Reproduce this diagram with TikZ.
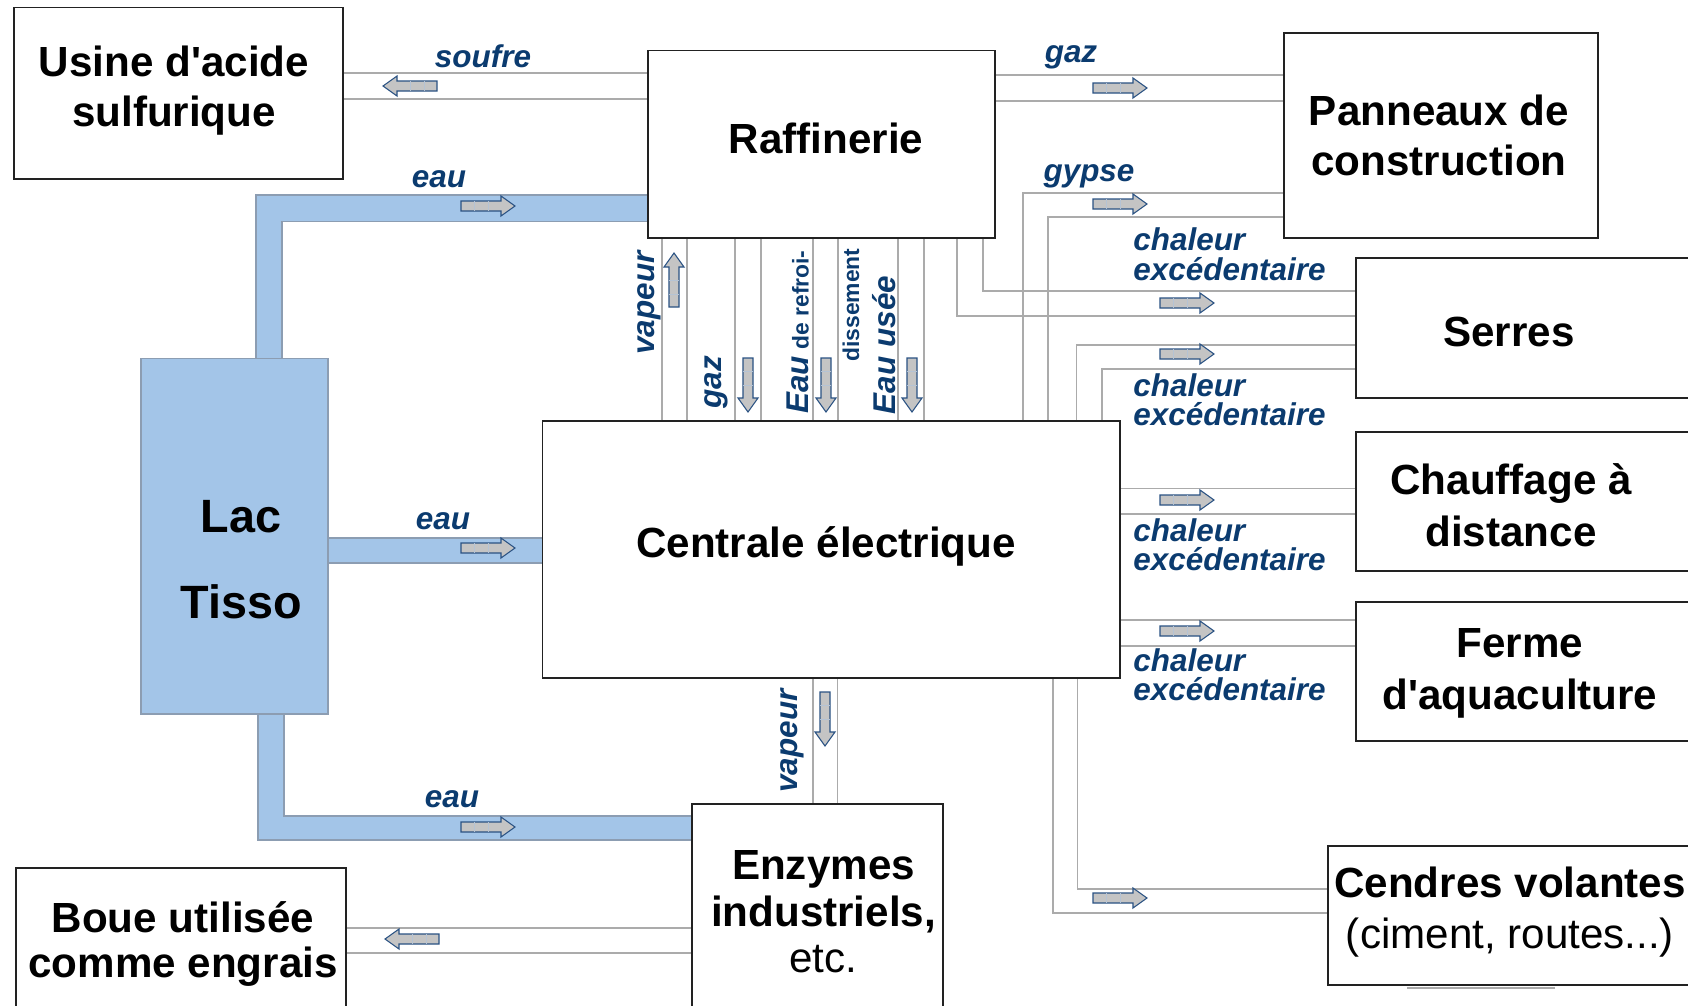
\documentclass[tikz,border=0pt]{standalone}
\usepackage{fontspec}
\newfontfamily\lsans{Liberation Sans}
\usetikzlibrary{fit,backgrounds}
\definecolor{lblc}{HTML}{0B3B6F}
\definecolor{bandc}{HTML}{A3C5E8}
\definecolor{bandedge}{HTML}{8C9DB2}
\definecolor{pipec}{HTML}{ABABAB}
\definecolor{arrfill}{HTML}{C4C4C4}
\definecolor{arredge}{HTML}{2A5283}
\definecolor{boxc}{HTML}{222222}
\newcommand\mybxfont[1]{\lsans\bfseries\fontsize{24}{#1}\selectfont}
\begin{document}
\begin{tikzpicture}[x=0.02cm, y=-0.02cm,
  boxstyle/.style={draw=boxc, line width=0.8pt, fill=white, inner sep=0pt},
  lacstyle/.style={draw=bandedge, line width=0.8pt, fill=bandc, inner sep=0pt},
  boxtxt/.style={align=center, inner sep=0pt},
  lbl/.style={font=\lsans\bfseries\itshape\fontsize{17.9}{17}\selectfont, text=lblc, inner sep=0pt},
  smalllbl/.style={font=\lsans\bfseries\fontsize{13}{13}\selectfont, text=lblc, inner sep=0pt},
  pipe/.style={draw=pipec, line width=0.8pt},
  bandfill/.style={fill=bandc},
  bandline/.style={draw=bandedge, line width=0.8pt},
  barrow/.pic={
    \path[draw=arredge, fill=arrfill, line width=0.6pt]
      (-27,-5)--(13,-5)--(13,-10)--(27,0)--(13,10)--(13,5)--(-27,5)--cycle;
    \draw[arredge!35, line width=0.3pt] (-14,-5)--(-14,5) (0,-5)--(0,5);
  }
]
\clip (0,0) rectangle (1688,1005);

% ---------- boxes ----------
\node[boxstyle, fit={(14,7.5) (343,179)}] (usine) {};
\node[boxstyle, fit={(648,50.6) (995,238)}] (raf) {};
\node[boxstyle, fit={(1284,33) (1598,238)}] (pan) {};
\node[boxstyle, fit={(1356,258) (1700,398)}] (ser) {};
\node[boxstyle, fit={(1356,432) (1700,571)}] (cha) {};
\node[boxstyle, fit={(1356,602) (1700,741)}] (fer) {};
\node[boxstyle, fit={(1328,846) (1700,985)}] (cnd) {};
\node[boxstyle, fit={(542.5,421) (1120,678)}] (cen) {};
\node[lacstyle, fit={(141,358.5) (328,714)}] (lac) {};
\node[boxstyle, fit={(692,804) (943,1030)}] (enz) {};
\node[boxstyle, fit={(16,868) (346,1030)}] (boue) {};

% ---------- connectors (behind boxes) ----------
\begin{scope}[on background layer]
\fill[white] (0,0) rectangle (1688,1005);
% water bands
\path[bandfill] (lac.north -| 256,0) -- (256,195) -- (raf.west |- 0,195) -- (raf.west |- 0,221.7) -- (282,221.7) -- (lac.north -| 282,0) -- cycle;
\draw[bandline] (lac.north -| 256,0) -- (256,195) -- (raf.west |- 0,195);
\draw[bandline] (lac.north -| 282,0) -- (282,221.7) -- (raf.west |- 0,221.7);
\path[bandfill] (lac.east |- 0,538) rectangle (cen.west |- 0,563);
\draw[bandline] (lac.east |- 0,538) -- (cen.west |- 0,538);
\draw[bandline] (lac.east |- 0,563) -- (cen.west |- 0,563);
\path[bandfill] (lac.south -| 258,0) -- (258,840) -- (enz.west |- 0,840) -- (enz.west |- 0,816) -- (284,816) -- (lac.south -| 284,0) -- cycle;
\draw[bandline] (lac.south -| 258,0) -- (258,840) -- (enz.west |- 0,840);
\draw[bandline] (lac.south -| 284,0) -- (284,816) -- (enz.west |- 0,816);
% soufre
\draw[pipe] (usine.east |- 0,73) -- (raf.west |- 0,73);
\draw[pipe] (usine.east |- 0,99) -- (raf.west |- 0,99);
% gaz to panneaux
\draw[pipe] (raf.east |- 0,75) -- (pan.west |- 0,75);
\draw[pipe] (raf.east |- 0,101) -- (pan.west |- 0,101);
% raffinerie <-> centrale
\foreach \xx in {662,687,735,761,813,838,898,924}
  \draw[pipe] (raf.south -| \xx,0) -- (cen.north -| \xx,0);
% gypse
\draw[pipe] (cen.north -| 1023,0) -- (1023,193) -- (pan.west |- 0,193);
\draw[pipe] (cen.north -| 1048,0) -- (1048,217) -- (pan.west |- 0,217);
% chaleur raffinerie -> serres
\draw[pipe] (raf.south -| 983,0) -- (983,291) -- (ser.west |- 0,291);
\draw[pipe] (raf.south -| 957,0) -- (957,316) -- (ser.west |- 0,316);
% chaleur centrale -> serres
\draw[pipe] (cen.north -| 1076.5,0) -- (1076.5,345) -- (ser.west |- 0,345);
\draw[pipe] (cen.north -| 1102,0) -- (1102,369) -- (ser.west |- 0,369);
% chaleur -> chauffage
\draw[pipe] (cen.east |- 0,488.5) -- (cha.west |- 0,488.5);
\draw[pipe] (cen.east |- 0,514) -- (cha.west |- 0,514);
% chaleur -> ferme
\draw[pipe] (cen.east |- 0,620) -- (fer.west |- 0,620);
\draw[pipe] (cen.east |- 0,646) -- (fer.west |- 0,646);
% cendres
\draw[pipe] (cen.south -| 1053,0) -- (1053,913) -- (cnd.west |- 0,913);
\draw[pipe] (cen.south -| 1077.5,0) -- (1077.5,889) -- (cnd.west |- 0,889);
\draw[pipe] (1407,988) -- (1555,988);
% vapeur -> enzymes
\draw[pipe] (cen.south -| 813,0) -- (enz.north -| 813,0);
\draw[pipe] (cen.south -| 837.5,0) -- (enz.north -| 837.5,0);
% boue
\draw[pipe] (boue.east |- 0,928) -- (enz.west |- 0,928);
\draw[pipe] (boue.east |- 0,953) -- (enz.west |- 0,953);
\end{scope}

% ---------- block arrows ----------
\pic[rotate=180] at (410,86) {barrow};
\pic at (488,206) {barrow};
\pic at (488,548) {barrow};
\pic at (488,827) {barrow};
\pic[rotate=180] at (412,939) {barrow};
\pic at (1120,88) {barrow};
\pic at (1120,204) {barrow};
\pic at (1187,303) {barrow};
\pic at (1187,354) {barrow};
\pic at (1187,500) {barrow};
\pic at (1187,631) {barrow};
\pic at (1120,898) {barrow};
\pic[rotate=90] at (674,280) {barrow};
\pic[rotate=-90] at (748,385) {barrow};
\pic[rotate=-90] at (826,385) {barrow};
\pic[rotate=-90] at (912,385) {barrow};
\pic[rotate=-90] at (825,719) {barrow};

% ---------- box texts ----------
\node[boxtxt, font=\mybxfont{28.5}] (usinet) at (174,91) {Usine d\textquotesingle acide\\sulfurique};
\node[boxtxt, font=\mybxfont{28}] (raft) at (826,138) {Raffinerie};
\node[boxtxt, font=\mybxfont{28.4}] (pant) at (1439,135) {Panneaux de\\construction};
\node[boxtxt, font=\mybxfont{28}] (sert) at (1509,332) {Serres};
\node[boxtxt, font=\mybxfont{29.5}] (chat) at (1511,505) {Chauffage à\\distance};
\node[boxtxt, font=\mybxfont{29.5}] (fert) at (1520,673) {Ferme\\d\textquotesingle aquaculture};
\node[boxtxt, font=\mybxfont{29.5}] (cndt) at (1510,912) {Cendres volantes\\{\mdseries (ciment, routes...)}};
\node[boxtxt, font=\mybxfont{28}] (cent) at (826,546) {Centrale électrique};
\node[boxtxt, font=\lsans\bfseries\fontsize{26.6}{48.8}\selectfont] (lact) at (241,560) {Lac\\Tisso};
\node[boxtxt, font=\mybxfont{26.4}] (enzt) at (823.5,912) {Enzymes\\industriels,\\{\mdseries etc.}};
\node[boxtxt, font=\mybxfont{26}] (bouet) at (183,944) {Boue utilisée\\comme engrais};

% ---------- flow labels ----------
\node[lbl] (soufl) at (483,56) {soufre};
\node[lbl] (eau1) at (439,179) {eau};
\node[lbl] (eau2) at (443,521) {eau};
\node[lbl] (eau3) at (452,799) {eau};
\node[lbl] (gazh) at (1071,57) {gaz};
\node[lbl] (gyps) at (1089,176) {gypse};
\node[lbl, anchor=base west] (c1a) at (1133,250) {chaleur};
\node[lbl, anchor=base west] (c1b) at (1133,280) {excédentaire};
\node[lbl, anchor=base west] (c2a) at (1133,396) {chaleur};
\node[lbl, anchor=base west] (c2b) at (1133,425) {excédentaire};
\node[lbl, anchor=base west] (c3a) at (1133,541) {chaleur};
\node[lbl, anchor=base west] (c3b) at (1133,570) {excédentaire};
\node[lbl, anchor=base west] (c4a) at (1133,671) {chaleur};
\node[lbl, anchor=base west] (c4b) at (1133,700) {excédentaire};
\node[lbl, rotate=90] (vapt) at (649,303) {vapeur};
\node[lbl, rotate=90] (gazv) at (716,382) {gaz};
\node[lbl, rotate=90] (eaur) at (798,332) {Eau{\lsans\bfseries\upshape\fontsize{13}{13}\selectfont\ de refroi-}};
\node[smalllbl, rotate=90] (diss) at (851,305) {dissement};
\node[lbl, rotate=90] (eauu) at (884,345) {Eau usée};
\node[lbl, rotate=90] (vapb) at (792,741) {vapeur};
\end{tikzpicture}
\end{document}
